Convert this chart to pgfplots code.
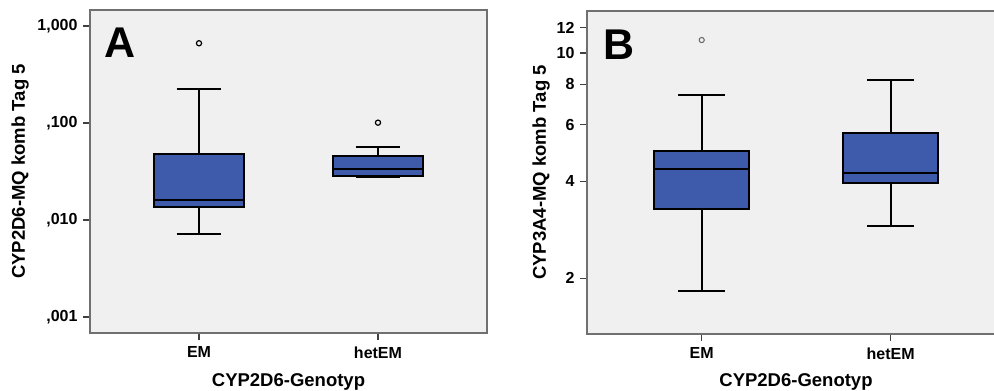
\documentclass[border=0pt]{standalone}
\usepackage{pgfplots}
\pgfplotsset{compat=1.18}
\usepackage{fontspec}
\setmainfont{Liberation Sans}
\definecolor{bgcol}{HTML}{F0F0F0}
\definecolor{boxblue}{HTML}{3D5AAB}
\definecolor{framecol}{HTML}{707070}
\pgfplotsset{
  spssbox/.style={
    scale only axis,
    axis background/.style={fill=bgcol},
    axis line style={draw=framecol, line width=1.6pt},
    tick align=outside,
    tick pos=left,
    major tick length=7pt,
    minor tick length=0pt,
    tick style={draw=black!75, line width=1.4pt},
    xtick={1,2},
    xticklabels={EM,hetEM},
    ticklabel style={font=\fontsize{16}{16}\selectfont\bfseries},
    yticklabel style={xshift=-2pt},
    xticklabel style={yshift=-3pt},
    label style={font=\fontsize{18.5}{18.5}\selectfont\bfseries},
    xlabel={CYP2D6-Genotyp},
  },
  bx/.style={draw=black, fill=boxblue, line width=2pt, solid},
  wl/.style={draw=black, line width=2pt, solid, mark=none},
}
\begin{document}
\begin{tikzpicture}[x=1pt,y=1pt]
\useasboundingbox (0,0) rectangle (994,391);
% Panel A
\begin{axis}[spssbox, ymode=log,
  at={(90pt,58pt)}, anchor=south west,
  width=397pt, height=323pt,
  xmin=0.391, xmax=2.609,
  ymin=0.000684, ymax=1.46,
  ytick={0.001,0.01,0.1,1},
  yticklabels={{,001},{,010},{,100},{1,000}},
  ylabel={CYP2D6-MQ komb Tag 5},
  ylabel style={at={(axis description cs:-0.176,0.5)}, anchor=center},
  xlabel style={at={(axis description cs:0.5,-0.152)}, anchor=center},
]
% EM
\addplot[wl] coordinates {(1,0.0475) (1,0.224)};
\addplot[wl] coordinates {(1,0.0135) (1,0.00712)};
\addplot[wl] coordinates {(0.875,0.224) (1.125,0.224)};
\addplot[wl] coordinates {(0.875,0.00712) (1.125,0.00712)};
\addplot[bx] coordinates {(0.75,0.0135) (1.25,0.0135) (1.25,0.0475) (0.75,0.0475)} -- cycle;
\addplot[wl] coordinates {(0.75,0.0161) (1.25,0.0161)};
% hetEM
\addplot[wl] coordinates {(2,0.046) (2,0.057)};
\addplot[wl] coordinates {(1.875,0.057) (2.125,0.057)};
\addplot[wl] coordinates {(1.875,0.0277) (2.125,0.0277)};
\addplot[bx] coordinates {(1.75,0.0284) (2.25,0.0284) (2.25,0.046) (1.75,0.046)} -- cycle;
\addplot[wl] coordinates {(1.75,0.0333) (2.25,0.0333)};
\addplot[only marks, mark=o, mark size=2.6pt, black, line width=1.2pt] coordinates {(1,0.663) (2,0.1007)};
\node[anchor=north west, inner sep=0pt, font=\fontsize{43}{43}\selectfont\bfseries] at (rel axis cs:0.035,0.944) {A};
\end{axis}
% Panel B
\begin{axis}[spssbox, ymode=log,
  at={(587pt,57pt)}, anchor=south west,
  width=418pt, height=323pt,
  xmin=0.393, xmax=2.605,
  ymin=1.343, ymax=13.5,
  ytick={2,4,6,8,10,12},
  yticklabels={2,4,6,8,10,12},
  ylabel={CYP3A4-MQ komb Tag 5},
  ylabel style={at={(axis description cs:-0.110,0.5)}, anchor=center},
  xlabel style={at={(axis description cs:0.5,-0.149)}, anchor=center},
]
% EM
\addplot[wl] coordinates {(1,4.97) (1,7.40)};
\addplot[wl] coordinates {(1,3.28) (1,1.82)};
\addplot[wl] coordinates {(0.875,7.40) (1.125,7.40)};
\addplot[wl] coordinates {(0.875,1.82) (1.125,1.82)};
\addplot[bx] coordinates {(0.75,3.28) (1.25,3.28) (1.25,4.97) (0.75,4.97)} -- cycle;
\addplot[wl] coordinates {(0.75,4.36) (1.25,4.36)};
% hetEM
\addplot[wl] coordinates {(2,5.64) (2,8.24)};
\addplot[wl] coordinates {(2,3.95) (2,2.90)};
\addplot[wl] coordinates {(1.875,8.24) (2.125,8.24)};
\addplot[wl] coordinates {(1.875,2.90) (2.125,2.90)};
\addplot[bx] coordinates {(1.75,3.95) (2.25,3.95) (2.25,5.64) (1.75,5.64)} -- cycle;
\addplot[wl] coordinates {(1.75,4.25) (2.25,4.25)};
\addplot[only marks, mark=o, mark size=2.6pt, black!60, line width=1pt] coordinates {(1,10.97)};
\node[anchor=north west, inner sep=0pt, font=\fontsize{43}{43}\selectfont\bfseries] at (rel axis cs:0.038,0.941) {B};
\end{axis}
\end{tikzpicture}
\end{document}
